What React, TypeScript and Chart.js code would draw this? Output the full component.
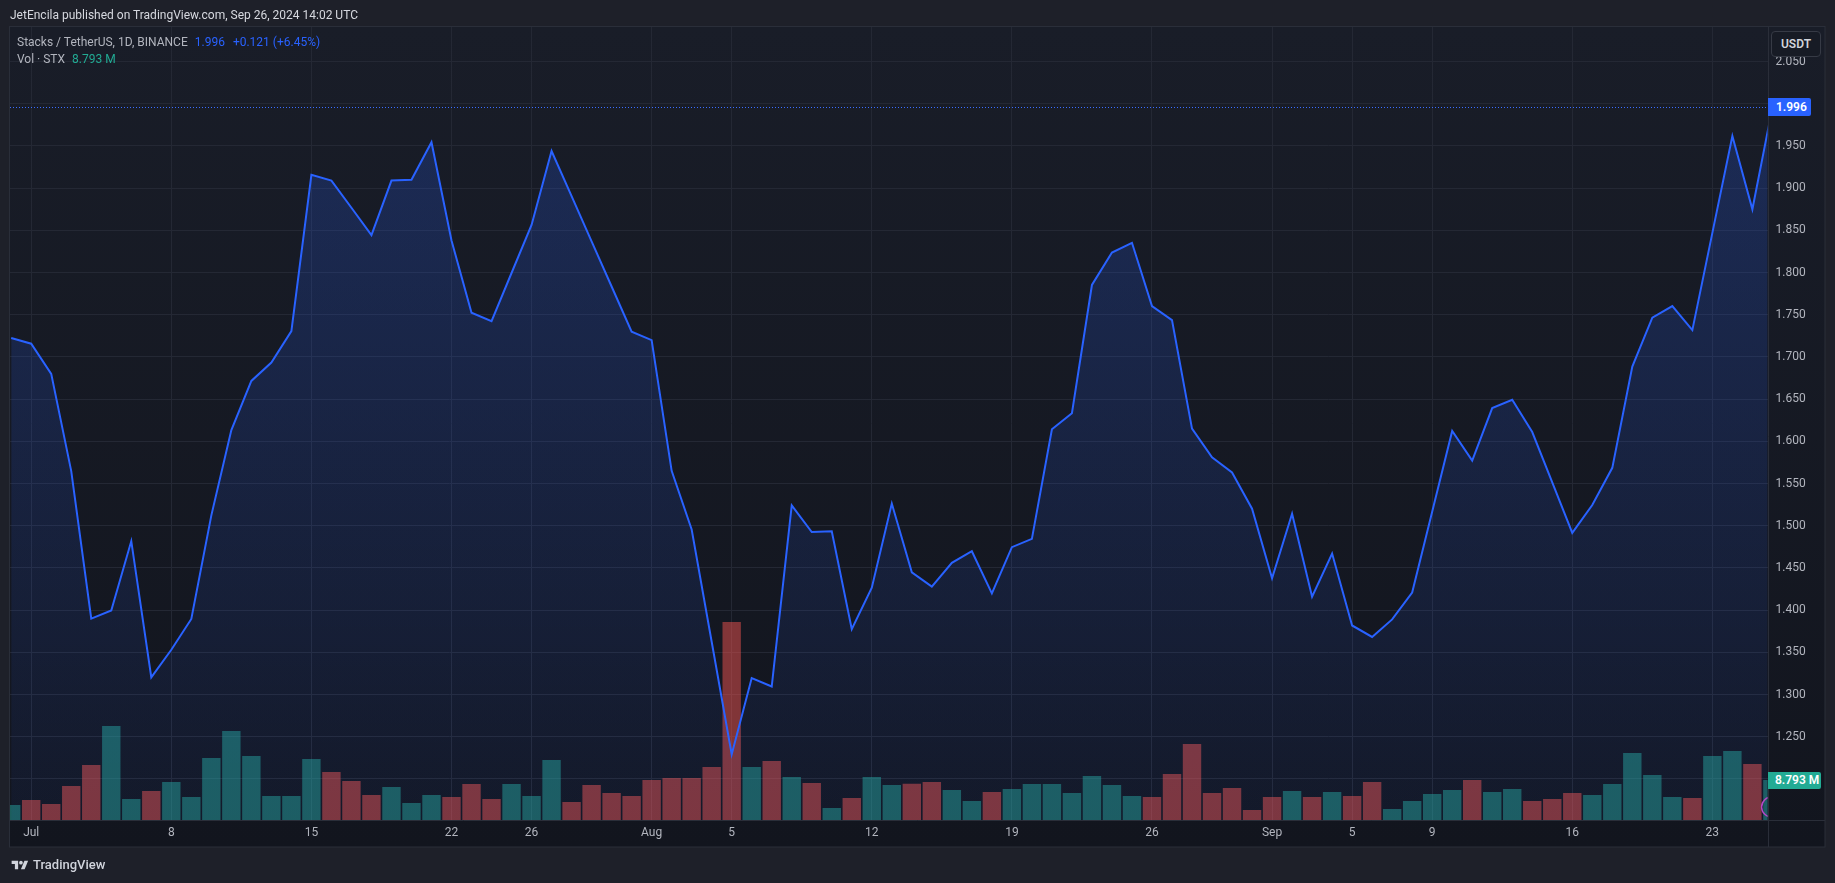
import React, { useEffect, useRef } from 'react';
import { Chart, registerables } from 'chart.js';

Chart.register(...registerables);

const W = 1835;
const H = 883;
const FONT = 'Roboto, "Liberation Sans", sans-serif';

// ---- data ----
const START_DATE = '2024-06-30';

const closes: number[] = [
  1.7225, 1.7157, 1.680, 1.5647, 1.390, 1.3995, 1.4818, 1.3203, 1.353, 1.3895,
  1.5123, 1.6133, 1.6716, 1.6934, 1.7307, 1.9159, 1.909, 1.8768, 1.8444, 1.909,
  1.910, 1.9545, 1.838, 1.7525, 1.7425, 1.7995, 1.8565, 1.944, 1.8905, 1.837,
  1.7835, 1.730, 1.720, 1.565, 1.4955, 1.3625, 1.229, 1.3195, 1.3095, 1.524,
  1.4925, 1.4935, 1.3775, 1.4265, 1.5263, 1.4448, 1.4278, 1.456, 1.4698, 1.4198,
  1.4746, 1.4845, 1.6143, 1.6333, 1.7853, 1.8238, 1.8353, 1.7603, 1.7437, 1.6151,
  1.581, 1.5631, 1.5202, 1.4377, 1.5143, 1.4159, 1.467, 1.3818, 1.3682, 1.389,
  1.4208, 1.5165, 1.6123, 1.5771, 1.6394, 1.6492, 1.611, 1.5513, 1.4915, 1.5246,
  1.5686, 1.6886, 1.7466, 1.7602, 1.7318, 1.847, 1.9619, 1.875, 1.996,
];

// volume in millions STX
const volumes: number[] = [
  3.30, 4.40, 3.52, 7.47, 12.09, 20.66, 4.62, 6.37, 8.35, 5.05,
  13.63, 19.56, 14.07, 5.27, 5.27, 13.41, 10.55, 8.57, 5.49, 7.25,
  3.74, 5.49, 5.05, 7.91, 4.62, 7.91, 5.27, 13.19, 3.96, 7.69,
  5.93, 5.27, 8.79, 9.23, 9.23, 11.65, 43.52, 11.65, 12.97, 9.45,
  8.13, 2.64, 4.84, 9.45, 7.69, 7.99, 8.35, 6.59, 4.18, 6.15,
  6.81, 7.91, 7.91, 5.93, 9.67, 7.69, 5.27, 5.05, 10.11, 16.70,
  5.93, 7.03, 2.20, 5.05, 6.37, 5.05, 6.15, 5.27, 8.35, 2.42,
  4.18, 5.71, 6.59, 8.79, 6.15, 6.81, 4.18, 4.62, 5.93, 5.49,
  7.91, 14.73, 9.89, 5.05, 4.84, 14.07, 15.16, 12.31, 8.793,
];

const tickDates: string[] = [
  '2024-07-01', '2024-07-08', '2024-07-15', '2024-07-22', '2024-07-26',
  '2024-08-01', '2024-08-05', '2024-08-12', '2024-08-19', '2024-08-26',
  '2024-09-01', '2024-09-05', '2024-09-09', '2024-09-16', '2024-09-23',
];
const tickLabels: string[] = [
  'Jul', '8', '15', '22', '26', 'Aug', '5', '12', '19', '26', 'Sep', '5', '9', '16', '23',
];

const priceTickLabels: string[] = [
  '2.050', '2.000', '1.950', '1.900', '1.850', '1.800', '1.750', '1.700', '1.650',
  '1.600', '1.550', '1.500', '1.450', '1.400', '1.350', '1.300', '1.250', '1.200',
];

const LAST_PRICE = 1.996;

// ---- view ----
const X_MIN = -0.06;
const X_MAX = 87.76;
const Y_MIN = 1.1513;
const Y_MAX = 2.091;
const VOL_MAX = 174.3;

const PANEL = { left: 9.5, top: 26.5, right: 1825, bottom: 847 };

const UP = 'rgba(38,166,154,0.5)';
const DOWN = 'rgba(239,83,80,0.5)';
const GRID = '#242834';
const LINE = '#2962ff';

const dayIndex = (d: string) =>
  Math.round((Date.parse(d + 'T00:00:00Z') - Date.parse(START_DATE + 'T00:00:00Z')) / 86400000);

const tickIdx = tickDates.map(dayIndex);

const decorPlugin = {
  id: 'tvDecor',
  beforeDraw(chart: any) {
    const { ctx } = chart;
    ctx.save();
    const g = ctx.createLinearGradient(0, PANEL.top, 0, PANEL.bottom);
    g.addColorStop(0, '#191d28');
    g.addColorStop(1, '#12151e');
    ctx.fillStyle = g;
    ctx.fillRect(PANEL.left, PANEL.top, PANEL.right - PANEL.left, PANEL.bottom - PANEL.top);
    ctx.restore();
  },
  afterDatasetsDraw(chart: any) {
    const { ctx, chartArea: a, scales } = chart;
    const y = Math.round(scales.y.getPixelForValue(LAST_PRICE)) + 0.5;
    ctx.save();
    ctx.beginPath();
    ctx.rect(a.left, a.top, a.right - a.left, a.bottom - a.top);
    ctx.clip();
    ctx.strokeStyle = '#3a6dff';
    ctx.lineWidth = 1;
    ctx.setLineDash([1, 2]);
    ctx.beginPath();
    ctx.moveTo(a.left, y);
    ctx.lineTo(a.right, y);
    ctx.stroke();
    ctx.setLineDash([]);
    ctx.strokeStyle = '#b548c6';
    ctx.lineWidth = 1.5;
    ctx.beginPath();
    ctx.arc(a.right + 4, a.bottom - 13, 10, 0, Math.PI * 2);
    ctx.stroke();
    ctx.restore();
  },
  afterDraw(chart: any) {
    const { ctx, chartArea: a } = chart;
    ctx.save();
    ctx.strokeStyle = '#2a2e39';
    ctx.lineWidth = 1;
    ctx.beginPath();
    ctx.moveTo(PANEL.left, Math.round(a.bottom) + 0.5);
    ctx.lineTo(PANEL.right, Math.round(a.bottom) + 0.5);
    ctx.moveTo(Math.round(a.right) + 0.5, PANEL.top);
    ctx.lineTo(Math.round(a.right) + 0.5, PANEL.bottom);
    ctx.stroke();
    ctx.strokeRect(PANEL.left, PANEL.top, PANEL.right - PANEL.left, PANEL.bottom - PANEL.top);
    ctx.restore();
  },
};

export default function App() {
  const ref = useRef<HTMLCanvasElement>(null);

  useEffect(() => {
    const canvas = ref.current;
    if (!canvas) return;
    const lineData = closes.map((c, i) => ({ x: i, y: c }));
    const volData = volumes.map((v, i) => ({ x: i, y: v }));
    const volColors = volumes.map((_, i) => (i === 0 || closes[i] >= closes[i - 1] ? UP : DOWN));

    const chart = new Chart(canvas, {
      type: 'bar',
      data: {
        datasets: [
          {
            type: 'line',
            data: lineData,
            xAxisID: 'x',
            yAxisID: 'y',
            borderColor: LINE,
            borderWidth: 2,
            pointRadius: 0,
            tension: 0,
            fill: 'start',
            clip: 0,
            order: 0,
            backgroundColor: (c: any) => {
              const area = c.chart.chartArea;
              if (!area) return 'rgba(41,98,255,0.1)';
              const g = c.chart.ctx.createLinearGradient(0, area.top, 0, area.bottom);
              g.addColorStop(0, 'rgba(41,98,255,0.24)');
              g.addColorStop(1, 'rgba(41,98,255,0.05)');
              return g;
            },
          } as any,
          {
            type: 'bar',
            data: volData,
            xAxisID: 'x',
            yAxisID: 'vol',
            backgroundColor: volColors,
            barPercentage: 0.92,
            categoryPercentage: 1,
            clip: 0,
            order: 1,
          } as any,
        ],
      },
      options: {
        animation: false,
        responsive: false,
        maintainAspectRatio: false,
        layout: { padding: { left: 10, top: 27, right: 10, bottom: 36 } },
        plugins: { legend: { display: false }, tooltip: { enabled: false } },
        scales: {
          x: {
            type: 'linear',
            min: X_MIN,
            max: X_MAX,
            offset: false,
            afterBuildTicks: (s: any) => {
              s.ticks = tickIdx.map((v) => ({ value: v }));
            },
            afterFit: (s: any) => {
              s.height = 27;
            },
            grid: { color: GRID, drawTicks: false, offset: false },
            border: { display: false },
            ticks: {
              autoSkip: false,
              maxRotation: 0,
              padding: 6,
              color: '#b2b5be',
              font: { family: FONT, size: 12 },
              callback: (_v: any, i: number) => tickLabels[i],
            },
          },
          y: {
            type: 'linear',
            position: 'right',
            min: Y_MIN,
            max: Y_MAX,
            afterBuildTicks: (s: any) => {
              s.ticks = priceTickLabels.map((t) => ({ value: parseFloat(t) }));
            },
            afterFit: (s: any) => {
              s.width = 57.4;
            },
            grid: { color: GRID, drawTicks: false },
            border: { display: false },
            ticks: {
              padding: 8,
              color: '#b2b5be',
              font: { family: FONT, size: 12 },
              callback: (v: any) => Number(v).toFixed(3),
            },
          },
          vol: {
            type: 'linear',
            display: false,
            min: 0,
            max: VOL_MAX,
          },
        },
      } as any,
      plugins: [decorPlugin],
    });
    return () => chart.destroy();
  }, []);

  const abs = (o: React.CSSProperties): React.CSSProperties => ({ position: 'absolute', whiteSpace: 'nowrap', ...o });

  return (
    <div
      style={{
        position: 'fixed',
        left: 0,
        top: 0,
        width: W,
        height: H,
        background: '#1e2029',
        overflow: 'hidden',
        fontFamily: FONT,
      }}
    >
      <canvas ref={ref} width={W} height={H} style={{ position: 'absolute', left: 0, top: 0, width: W, height: H }} />

      <div style={abs({ left: 10, top: 7, fontSize: 12, lineHeight: '16px', color: '#d6d8df' })}>
        JetEncila published on TradingView.com, Sep 26, 2024 14:02 UTC
      </div>

      <div style={abs({ left: 17, top: 34, fontSize: 12, lineHeight: '16px', color: '#b2b5be' })}>
        <span>Stacks / TetherUS, 1D, BINANCE</span>
        <span style={{ color: '#2962ff', marginLeft: 7 }}>1.996</span>
        <span style={{ color: '#2962ff', marginLeft: 8 }}>+0.121 (+6.45%)</span>
      </div>
      <div style={abs({ left: 17, top: 51, fontSize: 12, lineHeight: '16px', color: '#b2b5be' })}>
        <span>Vol · STX</span>
        <span style={{ color: '#22ab94', marginLeft: 7 }}>8.793 M</span>
      </div>

      <div
        style={abs({
          left: 1771,
          top: 31,
          width: 50,
          height: 26,
          boxSizing: 'border-box',
          border: '1px solid #363a45',
          borderRadius: 4,
          background: '#171b25',
          color: '#d1d4dc',
          fontSize: 12,
          fontWeight: 600,
          lineHeight: '24px',
          textAlign: 'center',
        })}
      >
        USDT
      </div>

      <div
        style={abs({
          left: 1768,
          top: 98,
          width: 43,
          height: 18,
          background: '#2962ff',
          color: '#ffffff',
          fontSize: 12,
          fontWeight: 600,
          lineHeight: '18px',
          paddingLeft: 8,
          boxSizing: 'border-box',
          borderRadius: '0 2px 2px 0',
        })}
      >
        1.996
      </div>

      <div
        style={abs({
          left: 1768,
          top: 772,
          width: 53,
          height: 17,
          background: '#22ab94',
          color: '#ffffff',
          fontSize: 12,
          fontWeight: 600,
          lineHeight: '17px',
          paddingLeft: 7,
          boxSizing: 'border-box',
          borderRadius: '0 2px 2px 0',
        })}
      >
        8.793 M
      </div>

      <svg style={{ position: 'absolute', left: 10, top: 859 }} width={20} height={13} viewBox="0 0 36 28">
        <path d="M14 22H7V11H0V4h14v18z" fill="#d1d4dc" />
        <circle cx={20} cy={8} r={4} fill="#d1d4dc" />
        <path d="M28 22h-8l7.5-18h8L28 22z" fill="#d1d4dc" />
      </svg>
      <div style={abs({ left: 33, top: 857, fontSize: 13, lineHeight: '16px', color: '#d1d4dc', fontWeight: 500 })}>
        TradingView
      </div>
    </div>
  );
}
